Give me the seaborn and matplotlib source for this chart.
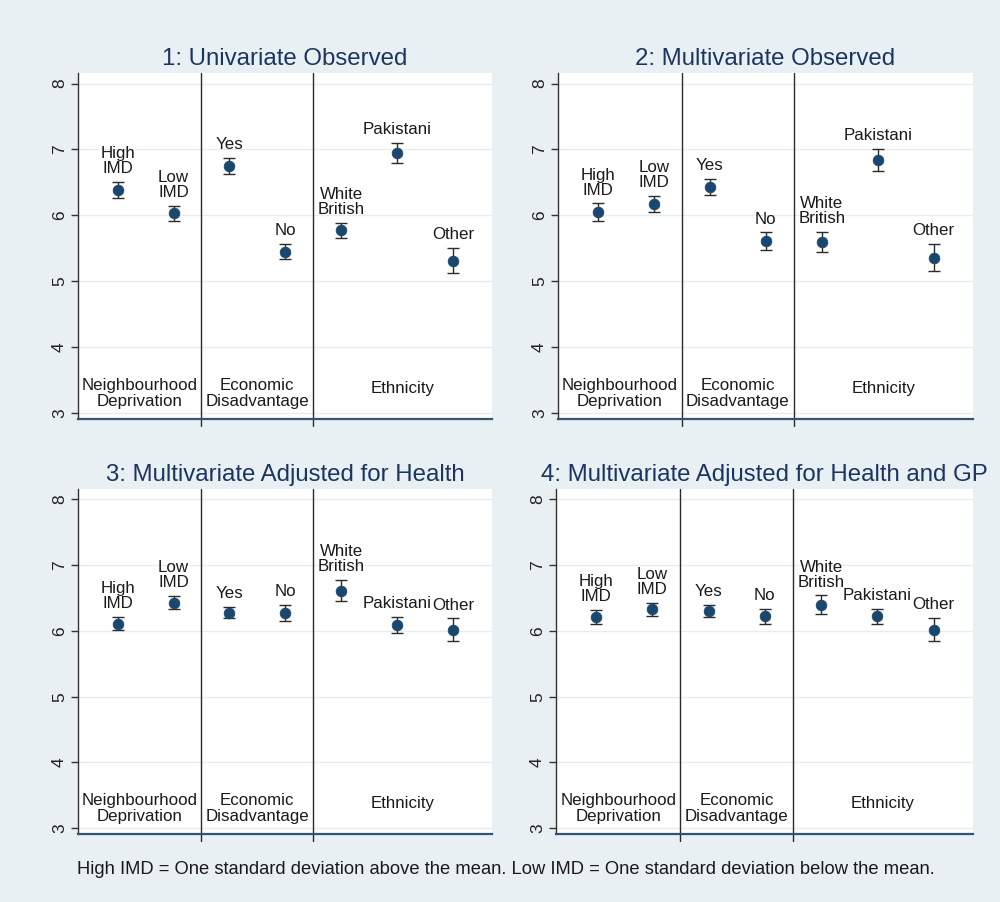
import numpy as np
import pandas as pd
import matplotlib
matplotlib.use("Agg")
import matplotlib.pyplot as plt
import seaborn as sns

# ---------------- data ----------------
categories = ["High\nIMD", "Low\nIMD", "Yes", "No", "White\nBritish", "Pakistani", "Other"]
groups = ["Neighbourhood\nDeprivation", "Economic\nDisadvantage", "Ethnicity"]
group_sizes = [2, 2, 3]

titles = ["1: Univariate Observed", "2: Multivariate Observed",
          "3: Multivariate Adjusted for Health", "4: Multivariate Adjusted for Health and GP"]

p1_values = [6.39, 6.03, 6.75, 5.45, 5.77, 6.95, 5.31]
p1_errors = [0.12, 0.11, 0.12, 0.11, 0.12, 0.15, 0.19]

p2_values = [6.05, 6.17, 6.43, 5.61, 5.60, 6.84, 5.36]
p2_errors = [0.13, 0.12, 0.12, 0.13, 0.15, 0.16, 0.20]

p3_values = [6.11, 6.43, 6.28, 6.27, 6.61, 6.09, 6.02]
p3_errors = [0.10, 0.10, 0.09, 0.12, 0.16, 0.12, 0.17]

p4_values = [6.21, 6.33, 6.30, 6.22, 6.40, 6.22, 6.02]
p4_errors = [0.11, 0.10, 0.09, 0.12, 0.14, 0.12, 0.18]

y_ticks = [3, 4, 5, 6, 7, 8]
footnote = "High IMD = One standard deviation above the mean. Low IMD = One standard deviation below the mean."

# ---------------- style ----------------
sns.set_theme(style="white")
plt.rcParams["font.family"] = ["Liberation Sans", "DejaVu Sans"]

BG = "#e9f0f3"
NAVY = "#1a476f"
TITLE_C = "#1c3560"
TEXT_C = "#1a1a1a"

fig = plt.figure(figsize=(10, 9.02), dpi=100, facecolor=BG)

panel_values = [p1_values, p2_values, p3_values, p4_values]
panel_errors = [p1_errors, p2_errors, p3_errors, p4_errors]

rects = [
    [0.078, 0.5355, 0.414, 0.3836],
    [0.558, 0.5355, 0.415, 0.3836],
    [0.078, 0.0754, 0.414, 0.3825],
    [0.556, 0.0754, 0.417, 0.3825],
]

for i in range(4):
    ax = fig.add_axes(rects[i])
    ax.set_facecolor("white")
    df = pd.DataFrame({
        "x": np.arange(1, len(categories) + 1),
        "value": panel_values[i],
        "err": panel_errors[i],
        "label": categories,
    })
    # gridlines
    for t in y_ticks:
        ax.axhline(t, color="#e6edf1", lw=1.0, zorder=0)
    # separators
    bounds = np.cumsum(group_sizes)[:-1] + 0.5
    for b in bounds:
        ax.axvline(b, color="#2b2b2b", lw=1.0, zorder=1, ymin=-0.02, clip_on=False)
    # error bars
    ax.errorbar(df["x"], df["value"], yerr=df["err"], fmt="none",
                ecolor="#2b2b2b", elinewidth=1.0, capsize=4, capthick=1.0, zorder=2)
    sns.scatterplot(data=df, x="x", y="value", ax=ax, color=NAVY, s=60,
                    edgecolor=NAVY, linewidth=0.5, zorder=3, legend=False)
    # point labels
    for _, r in df.iterrows():
        ax.text(r["x"], r["value"] + r["err"] + 0.09, r["label"], ha="center", va="bottom",
                fontsize=12.2, color=TEXT_C, linespacing=1.0, zorder=4)
    # group labels
    xlo, xhi = 0.29, 7.7
    edges = [xlo] + list(bounds) + [xhi]
    for g, name in enumerate(groups):
        cx = (edges[g] + edges[g + 1]) / 2
        yy = 3.3 if "\n" in name else 3.37
        ax.text(cx, yy, name, ha="center", va="center", fontsize=12.2,
                color=TEXT_C, linespacing=1.05)
    ax.set_xlim(xlo, xhi)
    ax.set_ylim(2.91, 8.16)
    ax.set_xticks([])
    ax.set_yticks(y_ticks)
    ax.set_yticklabels([str(t) for t in y_ticks], rotation=90, va="center",
                       fontsize=12.5, color="#222222")
    ax.tick_params(axis="y", direction="out", length=5, width=1, color="#333333",
                   left=True, pad=3)
    ax.set_xlabel("")
    ax.set_ylabel("")
    for s in ["top", "right"]:
        ax.spines[s].set_visible(False)
    ax.spines["left"].set_color("#333333")
    ax.spines["left"].set_linewidth(1.0)
    ax.spines["bottom"].set_color("#2f5577")
    ax.spines["bottom"].set_linewidth(1.6)
    ax.set_title(titles[i], fontsize=17.3, color=TITLE_C, pad=6)

fig.text(0.506, 0.0355, footnote, ha="center", va="center", fontsize=13.2, color=TEXT_C)

fig.savefig("out.png", dpi=100, facecolor=BG)
